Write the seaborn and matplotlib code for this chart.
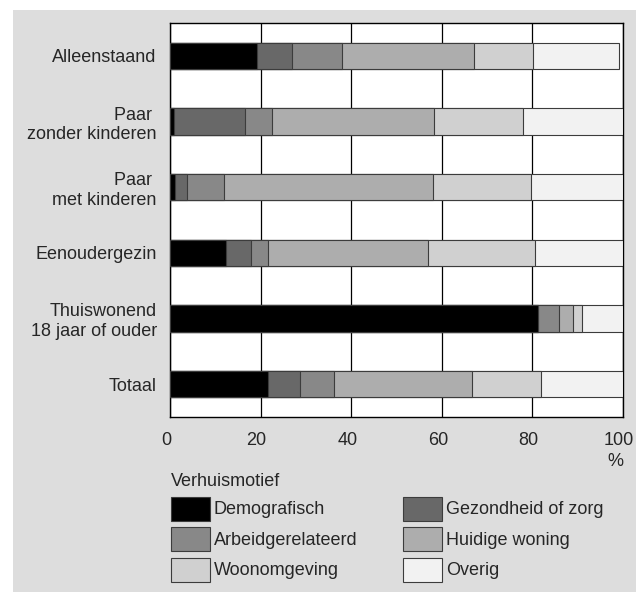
import numpy as np
import pandas as pd
import seaborn as sns
import matplotlib.pyplot as plt
import matplotlib.transforms as mtransforms
from matplotlib.patches import Patch, Rectangle

############################## Data ##############################
huishouden = ["Alleenstaand", "Paar \nzonder kinderen", "Paar \nmet kinderen",
              "Eenoudergezin", "Thuiswonend\n18 jaar of ouder", "Totaal"]
motieven = ["Demografisch", "Gezondheid of zorg", "Arbeidgerelateerd",
            "Huidige woning", "Woonomgeving", "Overig"]
demografisch = [19.1, 0.8, 1.0, 12.3, 81.3, 21.6]
gezondheid = [7.8, 15.7, 2.7, 5.5, 0.0, 7.1]
arbeid = [11.1, 6.1, 8.2, 3.9, 4.5, 7.4]
huidige_woning = [29.0, 35.7, 46.1, 35.3, 3.2, 30.6]
woonomgeving = [13.2, 19.7, 21.6, 23.6, 1.9, 15.2]
overig = [18.9, 22.0, 20.4, 19.4, 9.1, 18.1]
kleuren = ["#000000", "#686868", "#888888", "#adadad", "#d0d0d0", "#f2f2f2"]

df = pd.DataFrame({"Huishouden": huishouden,
                   "Demografisch": demografisch,
                   "Gezondheid of zorg": gezondheid,
                   "Arbeidgerelateerd": arbeid,
                   "Huidige woning": huidige_woning,
                   "Woonomgeving": woonomgeving,
                   "Overig": overig})
# cumulative sums for stacking
cum = df[motieven].cumsum(axis=1)
cum["Huishouden"] = df["Huishouden"]

############################## Plotting ##############################
sns.set_style("white")
plt.rcParams['font.family'] = ['Liberation Sans', 'DejaVu Sans']
plt.rcParams['font.size'] = 13

fig = plt.figure(figsize=(6.36, 5.92), dpi=100, facecolor="white")
fig.patches.append(Rectangle((13 / 636, 0), 1, 1 - 10 / 592, transform=fig.transFigure,
                             facecolor="#dddddd", edgecolor="none", zorder=-10))
ax = fig.add_axes([170 / 636, 1 - 417 / 592, 453 / 636, 394 / 592])
ax.set_facecolor("white")

# draw from the full bar down to the first segment so each one covers the previous
for m, c in reversed(list(zip(motieven, kleuren))):
    sns.barplot(x=m, y="Huishouden", data=cum, color=c, saturation=1, width=0.4,
                edgecolor="#3c3c3c", linewidth=0.8, orient="h", ax=ax, zorder=3)

ax.set_xlim(0, 100)
ax.set_xticks(np.arange(0, 101, 20))
ax.grid(axis="x", color="black", linewidth=0.9, zorder=0)
ax.set_axisbelow(True)
for s in ax.spines.values():
    s.set_color("black")
    s.set_linewidth(1)
ax.tick_params(axis="y", length=0, pad=9.5, labelsize=13)
ax.tick_params(axis="x", length=0, pad=11, labelsize=13)
# x labels sit a little left of their gridlines in the original
shift = mtransforms.ScaledTranslation(-4 / 100, 0, fig.dpi_scale_trans)
for lab in ax.get_xticklabels():
    lab.set_transform(lab.get_transform() + shift)
ax.set_ylabel("")
ax.set_xlabel("%", loc="right", labelpad=3, fontsize=13)

# legend, filled row by row
volgorde = [0, 2, 4, 1, 3, 5]
handles = [Patch(facecolor=kleuren[i], edgecolor="#3c3c3c", linewidth=0.8) for i in volgorde]
labels = [motieven[i] for i in volgorde]
fig.legend(handles, labels, title="Verhuismotief", loc="upper left",
           bbox_to_anchor=(171 / 636, 1 - 473 / 592), ncol=2, frameon=False,
           alignment="left", fontsize=13, title_fontsize=13,
           handlelength=2.16, handleheight=1.67, handletextpad=0.22,
           labelspacing=0.36, columnspacing=2.53, borderpad=0, borderaxespad=0)

##############################Export######################################
plt.savefig("out.png", dpi=100, facecolor=fig.get_facecolor())
